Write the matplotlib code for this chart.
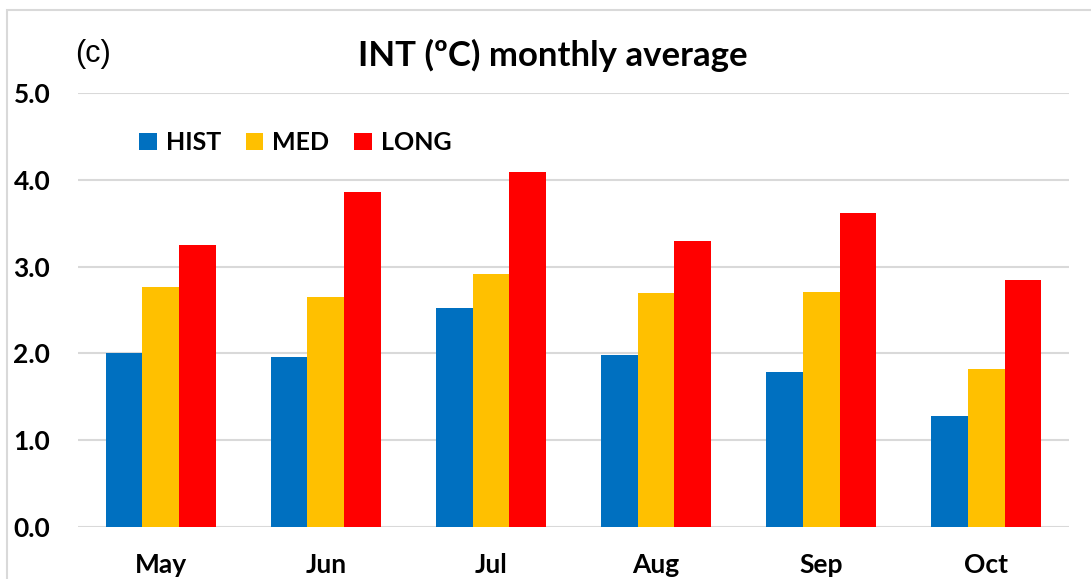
import numpy as np
import matplotlib.pyplot as plt
from matplotlib.patches import Rectangle

months = ['May', 'Jun', 'Jul', 'Aug', 'Sep', 'Oct']
hist = [2.00, 1.96, 2.52, 1.98, 1.79, 1.28]
med = [2.76, 2.65, 2.91, 2.70, 2.71, 1.82]
long_ = [3.25, 3.86, 4.09, 3.30, 3.62, 2.85]
series_names = ['HIST', 'MED', 'LONG']
colors = ['#0070C0', '#FFC000', '#FF0000']
yticks = [0.0, 1.0, 2.0, 3.0, 4.0, 5.0]

plt.rcParams['font.family'] = ['Lato', 'DejaVu Sans']

fig = plt.figure(figsize=(10.91, 5.79), dpi=100)
fig.patches.append(Rectangle((7 / 1091, -0.1), 1.2, 1 - 10 / 579 + 0.1,
                             transform=fig.transFigure, fill=False,
                             edgecolor='#d9d9d9', linewidth=1.5))

ax = fig.add_axes([78 / 1091, 1 - 527 / 579, (1069 - 78) / 1091, (527 - 93) / 579])
x = np.arange(len(months))
w = 0.222
for i, (vals, name) in enumerate(zip([hist, med, long_], series_names)):
    ax.bar(x + (i - 1) * w, vals, w, color=colors[i], label=name, zorder=3)

ax.set_xlim(-0.5, len(months) - 0.5)
ax.set_ylim(0, 5)
ax.set_yticks(yticks)
ax.set_yticklabels(['%.1f' % v for v in yticks], fontsize=19, fontweight='bold')
ax.set_xticks(x)
ax.set_xticklabels(months, fontsize=19, fontweight='bold')
ax.tick_params(axis='both', length=0)
ax.tick_params(axis='y', pad=20)
ax.tick_params(axis='x', pad=19)
ax.grid(axis='y', color='#d9d9d9', linewidth=1.5, zorder=0)
for s in ax.spines.values():
    s.set_visible(False)

leg = ax.legend(loc='center left', bbox_to_anchor=(0.062, 0.885), ncol=3, frameon=False,
                prop={'size': 18, 'weight': 'bold'}, handlelength=0.7, handleheight=0.7,
                handletextpad=0.35, columnspacing=1.0, borderaxespad=0, borderpad=0)

fig.text(553 / 1091, 1 - 55 / 579, 'INT (ºC) monthly average', ha='center', va='center',
         fontsize=25, fontweight='bold')
fig.text(75 / 1091, 1 - 54 / 579, '(c)', ha='left', va='center', fontsize=22,
         family=['Liberation Sans', 'DejaVu Sans'])

fig.savefig('out.png', dpi=100)
